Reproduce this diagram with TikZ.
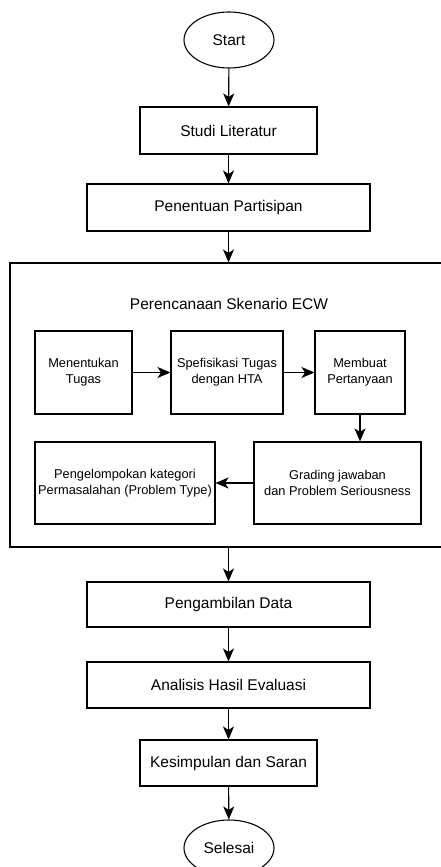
\documentclass[tikz,border=0pt]{standalone}
\usepackage{fontspec}
\setmainfont{Liberation Sans}
\usetikzlibrary{arrows.meta,shapes.geometric}
\begin{document}
\begin{tikzpicture}[x=1pt,y=-1pt,
  box/.style={draw=black,line width=1.1pt,rectangle,inner sep=0pt,align=center,font=\fontsize{15.5}{18}\selectfont},
  ibox/.style={draw=black,line width=1.1pt,rectangle,inner sep=0pt,align=center,font=\fontsize{12.8}{15.7}\selectfont},
  term/.style={draw=black,line width=1.1pt,ellipse,inner sep=0pt,minimum width=90pt,minimum height=56pt,font=\fontsize{15.5}{18}\selectfont},
  arr/.style={draw=black,line width=1.1pt,-{Stealth[length=13pt,width=11pt,inset=3.5pt]}}]
\useasboundingbox (0,0) rectangle (441,867);
\fill[white] (0,0) rectangle (441,867);
\node[term] (start) at (229,40) {Start};
\node[box,minimum width=177pt,minimum height=47pt] (studi) at (228.5,130.5) {Studi Literatur};
\node[box,minimum width=283pt,minimum height=47pt] (pen) at (228.5,207.5) {Penentuan Partisipan};
\node[draw=black,line width=1.1pt,rectangle,inner sep=0pt,minimum width=450pt,minimum height=284pt] (outer) at (235,405) {};
\node[font=\fontsize{15.5}{18}\selectfont] (title) at (229,304) {Perencanaan Skenario ECW};
\node[ibox,minimum width=97pt,minimum height=83pt] (men) at (83.5,372.5) {Menentukan\\Tugas};
\node[ibox,minimum width=112pt,minimum height=83pt] (spe) at (227,372.5) {Spefisikasi Tugas\\dengan HTA};
\node[ibox,minimum width=90pt,minimum height=83pt] (mem) at (360,372.5) {Membuat\\Pertanyaan};
\node[ibox,minimum width=167pt,minimum height=82pt] (gra) at (337.5,483) {Grading jawaban\\dan Problem Seriousness};
\node[ibox,minimum width=180pt,minimum height=82pt] (pgk) at (125,483) {Pengelompokan kategori\\Permasalahan (Problem Type)};
\node[box,minimum width=283pt,minimum height=45pt] (amb) at (228.5,604.5) {Pengambilan Data};
\node[box,minimum width=283pt,minimum height=46pt] (ana) at (228.5,685) {Analisis Hasil Evaluasi};
\node[box,minimum width=177pt,minimum height=46pt] (kes) at (228.5,763) {Kesimpulan dan Saran};
\node[term] (sel) at (229,848) {Selesai};
\draw[arr] (start) -- (studi);
\draw[arr] (studi) -- (pen);
\draw[arr] (pen.south) -- (pen.south |- outer.north);
\draw[arr] (men) -- (spe);
\draw[arr] (spe) -- (mem);
\draw[arr] (mem.south) -- (mem.south |- gra.north);
\draw[arr] (gra) -- (pgk);
\draw[arr] (amb.north |- outer.south) -- (amb.north);
\draw[arr] (amb) -- (ana);
\draw[arr] (ana) -- (kes);
\draw[arr] (kes) -- (sel);
\end{tikzpicture}
\end{document}
